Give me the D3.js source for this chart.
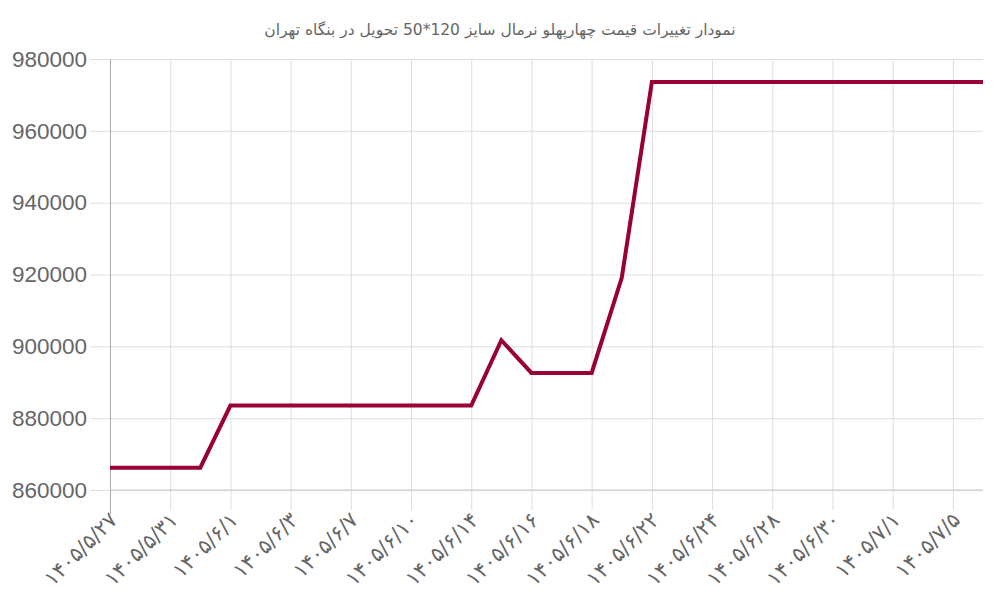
<!DOCTYPE html>
<html>
<head>
<meta charset="utf-8">
<script src="https://cdn.jsdelivr.net/npm/d3@7"></script>
<style>
  body { margin: 0; background: #fff; }
  svg { display: block; }
</style>
</head>
<body>
<svg id="chart" width="1000" height="600"></svg>
<script>
var TITLE = "نمودار تغییرات قیمت چهارپهلو نرمال سایز 120*50 تحویل در بنگاه تهران";

// labels shown on the x axis (every second point)
var dateLabels = ["۱۴۰۵/۵/۲۷", "۱۴۰۵/۵/۳۱", "۱۴۰۵/۶/۱", "۱۴۰۵/۶/۳", "۱۴۰۵/۶/۷",
  "۱۴۰۵/۶/۱۰", "۱۴۰۵/۶/۱۴", "۱۴۰۵/۶/۱۶", "۱۴۰۵/۶/۱۸", "۱۴۰۵/۶/۲۲",
  "۱۴۰۵/۶/۲۴", "۱۴۰۵/۶/۲۸", "۱۴۰۵/۶/۳۰", "۱۴۰۵/۷/۱", "۱۴۰۵/۷/۵"];

// price per point
var prices = [866200, 866200, 866200, 866200, 883500, 883500, 883500, 883500,
  883500, 883500, 883500, 883500, 883500, 901700, 892600, 892600, 892600,
  919100, 973600, 973600, 973600, 973600, 973600, 973600, 973600, 973600,
  973600, 973600, 973600, 973600];

var yTicks = [860000, 880000, 900000, 920000, 940000, 960000, 980000];

var LINE_COLOR = "#990033";
var GRID_COLOR = "#dedede";

var svg = d3.select("#chart");
var plotLeft = 110, plotRight = 983, plotTop = 59, plotBottom = 490;

var x = d3.scaleLinear().domain([0, prices.length - 1]).range([plotLeft, plotRight]);
var y = d3.scaleLinear().domain([860000, 980000]).range([plotBottom, plotTop]);

// title
svg.append("text")
  .attr("x", 500)
  .attr("y", 35)
  .attr("text-anchor", "middle")
  .style("font-family", "DejaVu Sans")
  .style("font-size", "15.5px")
  .style("fill", "#666")
  .text(TITLE);

// y axis + horizontal grid (drawn from right edge so lines run into the tick area)
var yAxis = svg.append("g")
  .attr("transform", "translate(" + plotRight + ",0)")
  .call(d3.axisLeft(y).tickValues(yTicks).tickSize(plotRight - 90).tickPadding(3)
    .tickFormat(d3.format("d")));
yAxis.select(".domain").remove();
yAxis.selectAll("line").attr("stroke", GRID_COLOR);
yAxis.selectAll("text")
  .style("font-family", "Liberation Sans, Arial, sans-serif")
  .style("font-size", "22.5px")
  .style("fill", "#666");

// x axis + vertical grid
var xTickIdx = d3.range(0, prices.length, 2);
var xAxis = svg.append("g")
  .attr("transform", "translate(0," + plotTop + ")")
  .call(d3.axisBottom(x).tickValues(xTickIdx).tickSize(510 - plotTop)
    .tickFormat(function(d) { return dateLabels[d / 2]; }));
xAxis.select(".domain").remove();
xAxis.selectAll("line").attr("stroke", GRID_COLOR);
xAxis.selectAll("line").filter(function(d) { return d == 0; })
  .attr("stroke", "#aaaaaa").attr("y2", 514 - plotTop);
xAxis.selectAll("text")
  .attr("x", 0).attr("y", 0).attr("dy", "0.35em")
  .attr("text-anchor", "end")
  .attr("transform", "translate(3," + (516 - plotTop) + ") rotate(-45)")
  .style("font-family", "DejaVu Sans")
  .style("font-size", "21px")
  .style("fill", "#666");

// bottom border
svg.append("line")
  .attr("x1", plotLeft).attr("x2", plotRight)
  .attr("y1", plotBottom).attr("y2", plotBottom)
  .attr("stroke", "#c8c8c8");

// price line
var line = d3.line()
  .x(function(d, i) { return x(i); })
  .y(function(d) { return y(d); });

svg.append("path")
  .datum(prices)
  .attr("d", line)
  .attr("fill", "none")
  .attr("stroke", LINE_COLOR)
  .attr("stroke-width", 4)
  .attr("stroke-linejoin", "miter");
</script>
</body>
</html>
